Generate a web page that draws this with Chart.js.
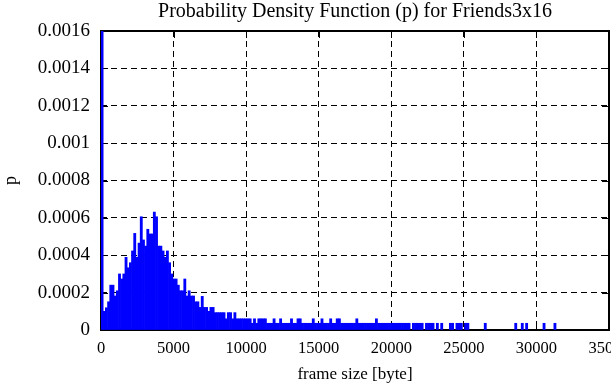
<!DOCTYPE html>
<html>
<head>
<meta charset="utf-8">
<script src="https://cdn.jsdelivr.net/npm/chart.js@4"></script>
<style>
html, body { margin: 0; padding: 0; background: #fff; }
</style>
</head>
<body>
<canvas id="myChart" width="611" height="385"></canvas>
<script>
// histogram bins of 150 byte
const binWidth = 150;

// bins 0 .. 76 (0 - 11550 byte), first one is the spike at 0 (clipped)
const peakP = [
  0.0017, 0.0001, 0.000119, 0.000151, 0.00024, 0.00024, 0.000182, 0.00021, 0.0003, 0.000273,
  0.0003, 0.000389, 0.000333, 0.00036, 0.000423, 0.000517, 0.000389, 0.000465, 0.000606, 0.000482,
  0.000449, 0.000539, 0.000514, 0.000514, 0.000631, 0.000606, 0.000449, 0.000449, 0.000423, 0.000389,
  0.000423, 0.00036, 0.0003, 0.000273, 0.000273, 0.00024, 0.00021, 0.00021, 0.000273, 0.000182,
  0.00021, 0.000182, 0.000182, 0.000151, 0.000151, 0.000121, 0.00018, 0.000121, 0.000121, 0.0001,
  0.000121, 0.000121, 0.000093, 0.000093, 0.000093, 0.000093, 0.000093, 0.00006, 0.000093, 0.000093,
  0.00006, 0.000093, 0.00006, 0.00006, 0.00006, 0.00006, 0.00006, 0.00006, 0.00006, 0.000036,
  0.00006, 0.000036, 0.00006, 0.00006, 0.00006, 0.00006, 0.000036
];

// bins 77 .. 141 (11550 - 21300 byte)
const plateauStart = 77;
const plateauP = [
  0.000036, 0.000036, 0.00006, 0.000036, 0.000036, 0.00006, 0.000036, 0.000036, 0.000036, 0.000036,
  0.00006, 0.000036, 0.000036, 0.00006, 0.00006, 0.000036, 0.000036, 0.000036, 0.000036, 0.000036,
  0.00006, 0.000036, 0.000036, 0.000036, 0.00006, 0.000036, 0.000036, 0.000036, 0.00006, 0.000036,
  0.000036, 0.00006, 0.00006, 0.000036, 0.000036, 0.000036, 0.000036, 0.000036, 0.000036, 0.000036,
  0.00006, 0.000036, 0.000036, 0.000036, 0.000036, 0.000036, 0.000036, 0.000036, 0.000036, 0.00006,
  0.000036, 0.000036, 0.000036, 0.000036, 0.000036, 0.000036, 0.000036, 0.000036, 0.000036, 0.000036,
  0.000036, 0.000036, 0.000036, 0.000036, 0.000036
];

// sparse tail, bin centres in byte
const tailSizes = [21525, 21675, 21825, 21975, 22125, 22425, 22575, 22725, 22875, 23175, 23475, 24075,
  24225, 24525, 24675, 24825, 25125, 25275, 26475, 28575, 29025, 29325, 30525, 31275];
const tailP = [0.000036, 0.000036, 0.000036, 0.000036, 0.000036, 0.000036, 0.000036, 0.000036,
  0.000036, 0.000036, 0.000036, 0.000036, 0.000036, 0.000036, 0.000036, 0.000036, 0.000036, 0.000036,
  0.000036, 0.000036, 0.000036, 0.000036, 0.000036, 0.000036];

const xTicks = [0, 5000, 10000, 15000, 20000, 25000, 30000, 35000];
const yTicks = [0, 0.0002, 0.0004, 0.0006, 0.0008, 0.001, 0.0012, 0.0014, 0.0016];

let points = [];
for (var i = 0; i < peakP.length; i++)
  points.push({ x: i * binWidth + binWidth / 2, y: peakP[i] });
for (var i = 0; i < plateauP.length; i++)
  points.push({ x: (plateauStart + i) * binWidth + binWidth / 2, y: plateauP[i] });
for (var i = 0; i < tailSizes.length; i++)
  points.push({ x: tailSizes[i], y: tailP[i] });

// gnuplot style frame with inward ticks
const frame = {
  id: 'frame',
  beforeDatasetsDraw(chart) {
    const { ctx, chartArea: a, scales } = chart;
    ctx.save();
    ctx.strokeStyle = '#000';
    ctx.lineWidth = 1;
    ctx.beginPath();
    xTicks.forEach(v => {
      const px = Math.round(scales.x.getPixelForValue(v)) + 0.5;
      ctx.moveTo(px, a.bottom); ctx.lineTo(px, a.bottom - 7);
      ctx.moveTo(px, a.top); ctx.lineTo(px, a.top + 7);
    });
    yTicks.forEach(v => {
      const py = Math.round(scales.y.getPixelForValue(v)) + 0.5;
      ctx.moveTo(a.left, py); ctx.lineTo(a.left + 7, py);
      ctx.moveTo(a.right, py); ctx.lineTo(a.right - 7, py);
    });
    ctx.stroke();
    ctx.lineWidth = 2;
    ctx.strokeRect(a.left, a.top, a.right - a.left, a.bottom - a.top);
    ctx.restore();
  }
};

Chart.defaults.font.family = '"Liberation Serif", "Times New Roman", serif';
Chart.defaults.font.size = 18;
Chart.defaults.color = '#000';

const config = {
  type: 'bar',
  data: {
    datasets: [{
      data: points,
      backgroundColor: '#0000ff',
      borderWidth: 0,
      barPercentage: 1,
      categoryPercentage: 1,
      grouped: false
    }]
  },
  options: {
    responsive: false,
    animation: false,
    devicePixelRatio: 1,
    layout: { padding: { top: 0, left: 0, right: 2, bottom: 0 } },
    plugins: {
      legend: { display: false },
      tooltip: { enabled: false },
      title: {
        display: true,
        text: 'Probability Density Function (p) for Friends3x16',
        fullSize: false,
        color: '#000',
        font: { size: 20, weight: 'normal' },
        padding: { top: 0, bottom: 7 }
      }
    },
    scales: {
      x: {
        type: 'linear',
        min: 0,
        max: 35000,
        offset: false,
        afterBuildTicks: s => { s.ticks = xTicks.map(v => ({ value: v })); },
        afterFit: s => { s.height = 55; s.paddingLeft = 0; s.paddingRight = 0; },
        ticks: { padding: 9, maxRotation: 0, autoSkip: false, font: { size: 16.5 }, callback: v => String(v) },
        grid: { color: '#000', lineWidth: 1, drawTicks: false, offset: false },
        border: { display: false, dash: [6, 4] },
        title: { display: true, text: 'frame size [byte]', padding: 0, font: { size: 17 } }
      },
      y: {
        min: 0,
        max: 0.0016,
        afterBuildTicks: s => { s.ticks = yTicks.map(v => ({ value: v })); },
        afterFit: s => { s.width = 101; s.paddingTop = 0; s.paddingBottom = 0; },
        ticks: { padding: 11, autoSkip: false, font: { size: 19 }, callback: v => String(+v.toFixed(4)) },
        grid: { color: '#000', lineWidth: 1, drawTicks: false },
        border: { display: false, dash: [6, 4] },
        title: { display: true, text: 'p', padding: 0 }
      }
    }
  },
  plugins: [frame]
};

const myChart = new Chart(document.getElementById('myChart'), config);
</script>
</body>
</html>
